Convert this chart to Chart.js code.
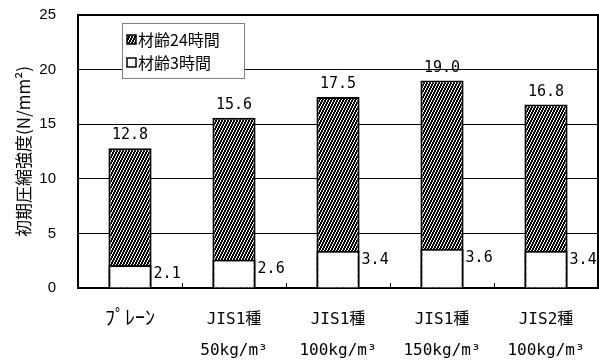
<!DOCTYPE html>
<html>
<head>
<meta charset="utf-8">
<script src="https://cdn.jsdelivr.net/npm/chart.js@4/dist/chart.umd.min.js"></script>
<style>
  html, body { margin: 0; background: #fff; overflow: hidden; }
  canvas { display: block; }
</style>
</head>
<body>
<canvas id="strengthChart" width="599" height="363"></canvas>
<script>
const categories = ['ﾌﾟﾚｰﾝ', ['JIS1種', '50kg/m³'], ['JIS1種', '100kg/m³'], ['JIS1種', '150kg/m³'], ['JIS2種', '100kg/m³']];
const seriesNames = ['材齢24時間', '材齢3時間'];
const age24h = [12.8, 15.6, 17.5, 19.0, 16.8];
const age3h = [2.1, 2.6, 3.4, 3.6, 3.4];
const yMin = 0, yMax = 25, yStep = 5;
const yTitle = '初期圧縮強度(N/mm²)';

// steep diagonal hatch for the 24h bars
function makeHatch() {
    const c = document.createElement('canvas');
    c.width = 3; c.height = 6;
    const g = c.getContext('2d');
    g.fillStyle = '#fff';
    g.fillRect(0, 0, 3, 6);
    g.fillStyle = '#000';
    for (let r = 0; r < 6; r++) {
        const px = (2 - Math.floor(r / 2) + 3) % 3;
        g.fillRect(px, r, 1, 1);
        g.fillRect((px + 1) % 3, r, 1, 1);
    }
    return g.createPattern(c, 'repeat');
}
const hatch = makeHatch();

// small upward ticks between categories
const catTicks = {
    id: 'catTicks',
    afterDatasetsDraw(chart) {
        const ctx = chart.ctx;
        try {
            const a = chart.chartArea;
            const xs = chart.scales.x;
            const step = xs.getPixelForValue(1) - xs.getPixelForValue(0);
            ctx.save();
            ctx.fillStyle = '#000';
            for (let i = 1; i < categories.length; i++) {
                const px = Math.round(xs.getPixelForValue(i) - step / 2);
                ctx.fillRect(px, a.bottom - 5, 1, 5);
            }
            ctx.restore();
        } catch (e) {
            ctx.fillStyle = 'red';
            ctx.font = '9px sans-serif';
            ctx.fillText(String(e), 2, 360);
        }
    }
};

const valueLabels = {
    id: 'valueLabels',
    afterDatasetsDraw(chart) {
        const ctx = chart.ctx;
        ctx.save();
        ctx.font = '15px "DejaVu Sans Mono"';
        ctx.fillStyle = '#000';
        chart.getDatasetMeta(0).data.forEach((bar, i) => {
            ctx.textAlign = 'center';
            ctx.textBaseline = 'alphabetic';
            ctx.fillText(age24h[i].toFixed(1), bar.x, bar.y - 9);
        });
        chart.getDatasetMeta(1).data.forEach((bar, i) => {
            ctx.textAlign = 'left';
            ctx.textBaseline = 'top';
            ctx.fillText(age3h[i].toFixed(1), bar.x + bar.width / 2 + 2, bar.y + 2);
        });
        ctx.restore();
    }
};

const boxLegend = {
    id: 'boxLegend',
    afterDraw(chart) {
        const a = chart.chartArea, ctx = chart.ctx;
        const x = a.left + 44, y = a.top + 8;
        ctx.save();
        ctx.fillStyle = '#fff';
        ctx.fillRect(x, y, 122, 55);
        ctx.strokeStyle = '#808080';
        ctx.lineWidth = 1;
        ctx.strokeRect(x + 0.5, y + 0.5, 122, 55);
        ctx.font = '16px "Noto Sans CJK JP"';
        ctx.textBaseline = 'middle';
        ctx.textAlign = 'left';
        chart.data.datasets.forEach((ds, i) => {
            const cy = y + 17 + i * 23;
            ctx.fillStyle = ds.backgroundColor;
            ctx.fillRect(x + 5, cy - 5, 9, 9);
            ctx.strokeStyle = '#000';
            ctx.lineWidth = 1.5;
            ctx.strokeRect(x + 5, cy - 5, 9, 9);
            ctx.fillStyle = '#000';
            ctx.fillText(ds.label, x + 16, cy);
        });
        ctx.restore();
    }
};

new Chart(document.getElementById('strengthChart'), {
    type: 'bar',
    data: {
        labels: categories,
        datasets: [
            {
                label: seriesNames[0],
                data: age24h,
                backgroundColor: hatch,
                borderColor: '#000',
                borderWidth: 2,
                order: 1
            },
            {
                label: seriesNames[1],
                data: age3h,
                backgroundColor: '#fff',
                borderColor: '#000',
                borderWidth: 2,
                order: 0
            }
        ]
    },
    options: {
        responsive: false,
        animation: false,
        grouped: false,
        categoryPercentage: 1,
        barPercentage: 0.415,
        layout: { padding: { top: 15, right: 0, left: 0, bottom: 0 } },
        plugins: {
            legend: { display: false },
            tooltip: { enabled: false }
        },
        scales: {
            x: {
                afterFit(scale) { scale.height = 75; },
                grid: { display: false, drawTicks: true, tickLength: 13 },
                border: { color: '#000', width: 2 },
                ticks: {
                    color: '#000',
                    padding: 3,
                    maxRotation: 0,
                    autoSkip: false,
                    font: (c) => ({
                        family: '"DejaVu Sans Mono", "Noto Sans CJK JP"',
                        size: c.index === 0 ? 20 : 16,
                        lineHeight: '31px'
                    })
                }
            },
            y: {
                min: yMin,
                max: yMax,
                afterFit(scale) { scale.width = 78; },
                grid: {
                    color: '#000',
                    lineWidth: (c) => (c.tick && c.tick.value === yMax ? 2 : 1),
                    drawTicks: true,
                    tickLength: 19,
                    tickColor: 'rgba(0,0,0,0)'
                },
                border: { color: '#000', width: 2 },
                ticks: {
                    stepSize: yStep,
                    color: '#000',
                    padding: 3,
                    font: { family: '"Liberation Sans", Arial', size: 15 }
                },
                title: {
                    display: true,
                    text: yTitle,
                    color: '#000',
                    padding: { top: 13, bottom: 0 },
                    font: { family: '"Noto Sans CJK JP"', size: 17 }
                }
            },
            yRight: {
                position: 'right',
                min: yMin,
                max: yMax,
                afterFit(scale) { scale.width = 1; },
                grid: { drawOnChartArea: false, drawTicks: false },
                border: { color: '#000', width: 2 },
                ticks: { display: false }
            }
        }
    },
    plugins: [catTicks, valueLabels, boxLegend]
});
</script>
</body>
</html>
